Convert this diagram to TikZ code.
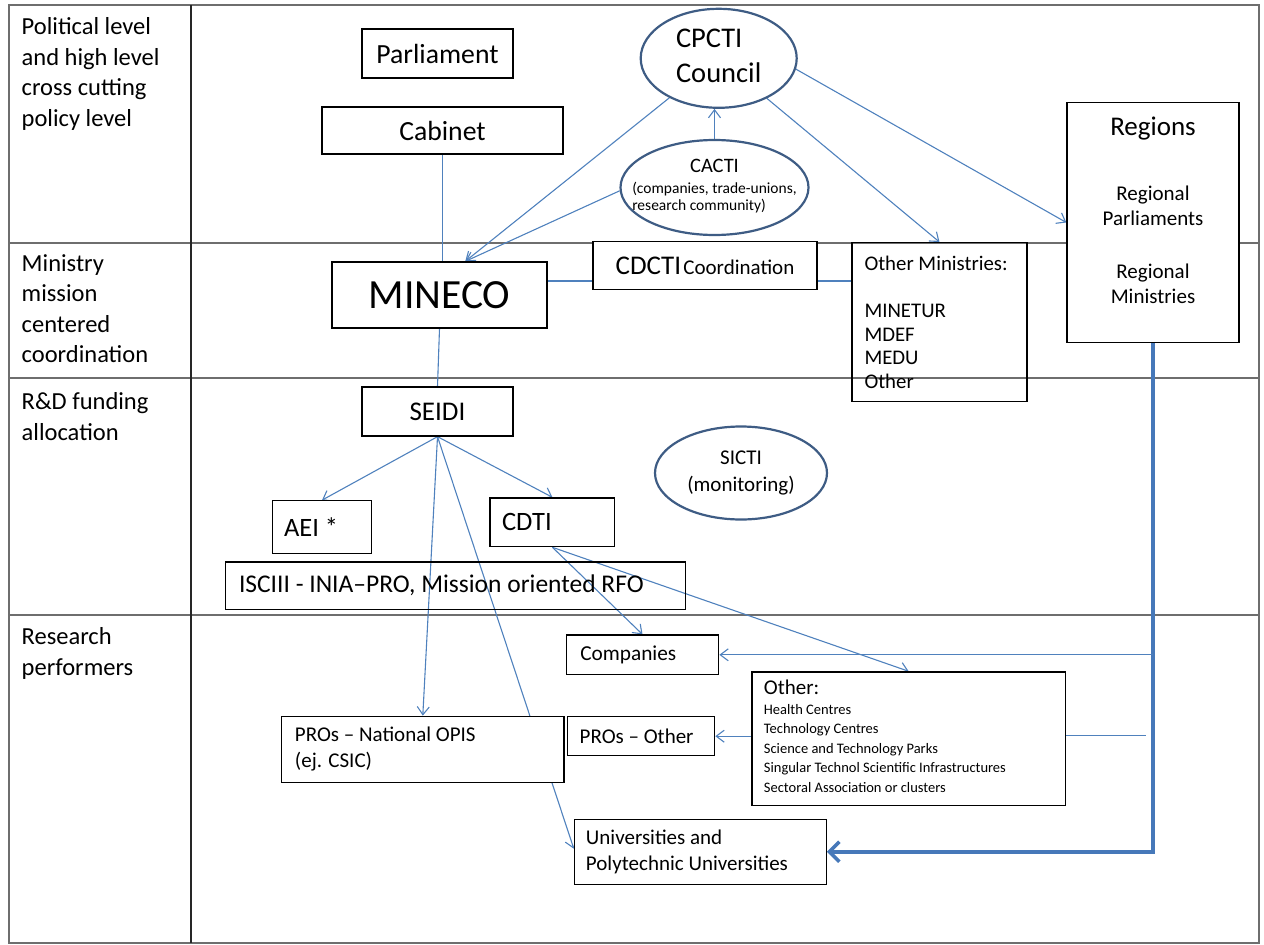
\documentclass[tikz,border=0pt]{standalone}
\usepackage{fontspec}
\setmainfont{Carlito}
\usetikzlibrary{shapes.geometric,arrows.meta,calc}
\pgfdeclarelayer{bg}
\pgfdeclarelayer{mid}
\pgfsetlayers{bg,mid,main}
\definecolor{lineblue}{RGB}{79,129,189}
\definecolor{thickblue}{RGB}{70,120,185}
\definecolor{ellblue}{RGB}{62,92,132}
\definecolor{gridgray}{RGB}{110,110,110}
\newcommand{\fsz}[2]{\fontsize{#1}{#2}\selectfont}
\newcommand{\zwbox}[1]{\makebox[0pt][c]{#1}}
\begin{document}
\begin{tikzpicture}[x=1pt,y=-1pt,
  box/.style={draw=black,line width=1.3pt,fill=white,inner sep=0pt},
  lbox/.style={box,align=flush left},
  ell/.style={ellipse,draw=ellblue,line width=2.2pt,fill=white,inner sep=0pt},
  lab/.style={anchor=north west,align=flush left,inner sep=0pt,font=\fsz{24.5}{30.5}},
  conn/.style={draw=lineblue,line width=1.1pt},
  arr/.style={conn,-{Straight Barb[length=8pt,width=12pt]}},
  thickarr/.style={draw=thickblue,line width=3.6pt,-{Straight Barb[length=10pt,width=20pt]}},
  grid/.style={draw=gridgray,line width=2pt}]
\useasboundingbox (0,0) rectangle (1264,945);

\begin{pgfonlayer}{bg}
\draw[grid] (8.5,5) rectangle (1259,943);
\draw[grid] (8.5,243) -- (1259,243);
\draw[grid] (8.5,378) -- (1259,378);
\draw[grid] (8.5,615) -- (1259,615);
\draw[black!85,line width=1.6pt] (191,5) -- (191,943);
\end{pgfonlayer}

% row labels
\node[lab] (l1) at (21.5,17.7) {Political level\\and high level\\cross cutting\\policy level};
\node[lab] (l2) at (21.5,254.3) {Ministry\\mission\\centered\\coordination};
\node[lab] (l3) at (21.5,392.7) {R\&D funding\\allocation};
\node[lab] (l4) at (21.5,627.7) {Research\\performers};

% top level
\node[box,minimum width=151pt,minimum height=49pt,font=\fsz{27.7}{33}] (parliament) at (437.5,53.5) {Parliament};
\node[box,minimum width=241pt,minimum height=47pt,font=\fsz{27.7}{33}] (cabinet) at (442.5,130.5) {Cabinet};
\node[ell,minimum width=156pt,minimum height=98pt,font=\fsz{28.5}{35}] (cpcti) at (718.7,58.3)
  {\zwbox{\begin{tabular}{@{}l@{}}CPCTI\\Council\end{tabular}}};
\node[ell,minimum width=188pt,minimum height=95pt,font=\fsz{15.5}{17}] (cacti) at (714.5,187.5)
  {\zwbox{\begin{tabular}{@{}l@{}}\multicolumn{1}{@{}c@{}}{\fsz{20.5}{22}CACTI}\\[4pt](companies, trade-unions,\\research community)\end{tabular}}};
\node[box,minimum width=172pt,minimum height=239.6pt,font=\fsz{21}{25}] (regions) at (1153,222.5)
  {\begin{tabular}{@{}c@{}}{\fsz{27}{30}Regions}\\[40pt]Regional\\Parliaments\\[27.6pt]Regional\\Ministries\\[17pt]\end{tabular}};

% ministry level
\node[box,minimum width=215pt,minimum height=66pt,font=\fsz{41.5}{48}] (mineco) at (439.5,295) {MINECO};
\node[box,minimum width=224pt,minimum height=48pt] (cdcti) at (705,265.5)
  {{\fsz{27}{30}CDCTI} {\fsz{21}{30}Coordination}};
\node[lbox,fill=none,text width=150pt,inner xsep=12.5pt,minimum height=159pt,font=\fsz{20.8}{23.6}] (othermin) at (939.5,322.2)
  {Other Ministries:\\[23.6pt]MINETUR\\MDEF\\MEDU\\Other};

% funding level
\node[box,minimum width=151pt,minimum height=49pt,font=\fsz{27}{32}] (seidi) at (437.5,411.5) {SEIDI};
\node[ell,minimum width=172pt,minimum height=93pt,font=\fsz{21}{27}] (sicti) at (741,473)
  {\zwbox{\begin{tabular}{@{}c@{}}SICTI\\(monitoring)\end{tabular}}};
\node[lbox,text width=76pt,inner xsep=11.5pt,minimum height=53pt,font=\fsz{26.5}{30}] (aei) at (322,527.3) {AEI *};
\node[lbox,text width=100.7pt,inner xsep=12pt,minimum height=48.7pt,font=\fsz{26.5}{30}] (cdti) at (552.4,522.3) {CDTI};
\node[lbox,fill=none,text width=433pt,inner xsep=13.3pt,minimum height=47.3pt,font=\fsz{25.5}{30}] (isciii) at (455.5,585.7)
  {ISCIII - INIA–PRO, Mission oriented RFO};

% performers
\node[lbox,text width=124.4pt,inner xsep=14pt,minimum height=39.5pt,font=\fsz{21.3}{26}] (companies) at (642.5,654.8) {Companies};
\node[lbox,text width=289.5pt,inner xsep=12pt,minimum height=133.7pt,font=\fsz{14.5}{19.4}] (other) at (908.7,738.8)
  {\begin{tabular}{@{}l@{}}{\fsz{21}{22}Other:}\\[1pt]Health Centres\\Technology Centres\\Science and Technology Parks\\Singular Technol Scientific Infrastructures\\Sectoral Association or clusters\end{tabular}};
\node[lbox,text width=123pt,inner xsep=12pt,minimum height=39pt,font=\fsz{21}{26}] (prosother) at (641.2,736.2) {PROs – Other};
\node[lbox,text width=255.7pt,inner xsep=13.3pt,minimum height=66.4pt,font=\fsz{21}{26}] (prosnat) at (422.8,749.5)
  {PROs – National OPIS\\(ej. CSIC)};
\node[lbox,text width=228.7pt,inner xsep=11.5pt,minimum height=65pt,font=\fsz{21}{26.3}] (univ) at (700.3,851.7)
  {Universities and\\Polytechnic Universities};

\coordinate (mtip) at ($(mineco.north)+(25.8,0)$);
\coordinate (cdy) at ($(cdcti.west)+(0,15.5)$);
\coordinate (oend) at ($(regions.south |- other.east)+(-7,-3.5)$);

\begin{pgfonlayer}{mid}
\draw[conn] (cabinet.south) -- (cabinet.south |- mineco.north);
\draw[arr] (cpcti) -- (mtip);
\draw[arr] (cacti.182) -- (mtip);
\draw[arr] (cacti.north) -- (cacti.north |- cpcti.south);
\draw[arr] (cpcti) -- (othermin.north);
\draw[arr] (cpcti.-8) -- (regions.west);
\draw[conn] (mineco.east |- cdy) -- (cdy);
\draw[conn] (cdcti.east |- cdy) -- (othermin.west |- cdy);
\draw[conn] (mineco.south) -- (seidi.north);
\draw[arr] (seidi.south) -- (aei.north);
\draw[arr] (seidi.south) -- (cdti.north);
\draw[arr] (seidi.south) -- (prosnat.north);
\draw[arr] (seidi.south) -- ($(univ.west)+(0,-3)$);
\draw[arr] (cdti.south) -- (companies.north);
\draw[arr] (cdti.south) -- (other.north);
\draw[thickarr] (regions.south) |- (univ.east);
\draw[arr] (regions.south |- companies.east) -- (companies.east);
\draw[conn] ($(other.east)+(0,-3.5)$) -- (oend);
\draw[arr] (other.west |- prosother.east) -- (prosother.east);
\end{pgfonlayer}
\end{tikzpicture}
\end{document}
